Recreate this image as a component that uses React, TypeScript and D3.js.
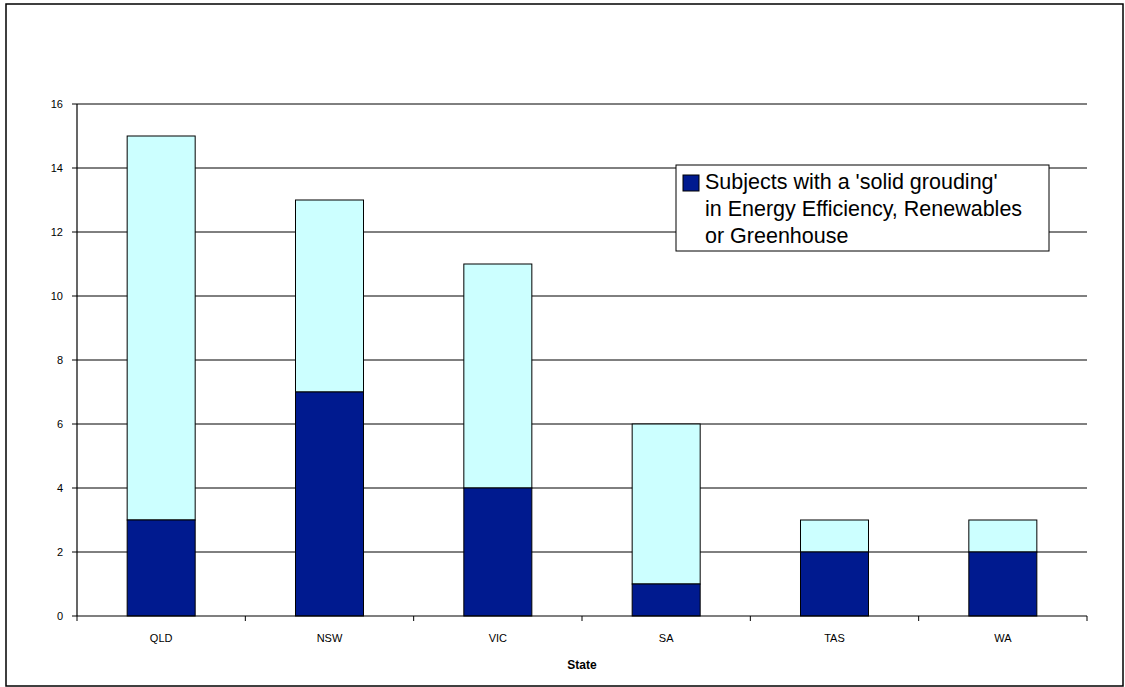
import React from "react";
import * as d3 from "d3";

const states = ["QLD", "NSW", "VIC", "SA", "TAS", "WA"];
const solidGrounding = [3, 7, 4, 1, 2, 2];
const otherSubjects = [12, 6, 7, 5, 1, 1];
const yTicks = [0, 2, 4, 6, 8, 10, 12, 14, 16];
const legendLines = [
  "Subjects with a 'solid grouding'",
  "in Energy Efficiency, Renewables",
  "or Greenhouse",
];

const W = 1125;
const H = 687;
const left = 77;
const right = 1087;
const top = 104;
const bottom = 616;

export default function App() {
  const x = d3
    .scaleBand<string>()
    .domain(states)
    .range([left, right])
    .paddingInner(0.596)
    .paddingOuter(0.298);
  const y = d3.scaleLinear().domain([0, 16]).range([bottom, top]);
  const step = (right - left) / states.length;
  const font = "'Liberation Sans', Arial, sans-serif";
  const dark = "#001a8f";
  const light = "#ccffff";

  return (
    <svg
      width={W}
      height={H}
      style={{ position: "absolute", left: 0, top: 0, display: "block" }}
      fontFamily={font}
    >
      <rect x={0} y={0} width={W} height={H} fill="#fff" />
      <rect x={6} y={4} width={1117} height={682} fill="none" stroke="#000" strokeWidth={1.5} />
      {/* gridlines */}
      {yTicks.map((t) => (
        <g key={t}>
          {t > 0 && (
            <line x1={left} x2={right} y1={y(t)} y2={y(t)} stroke="#000" strokeWidth={1} />
          )}
          <line x1={left - 5} x2={left} y1={y(t)} y2={y(t)} stroke="#000" strokeWidth={1} />
          <text
            x={left - 14}
            y={y(t)}
            dy="0.35em"
            textAnchor="end"
            fontSize={11}
            fill="#000"
          >
            {t}
          </text>
        </g>
      ))}
      {/* bars */}
      {states.map((s, i) => {
        const bx = x(s)!;
        const bw = x.bandwidth();
        const a = solidGrounding[i];
        const b = otherSubjects[i];
        return (
          <g key={s}>
            <rect
              x={bx}
              y={y(a + b)}
              width={bw}
              height={y(a) - y(a + b)}
              fill={light}
              stroke="#000"
              strokeWidth={1}
            />
            <rect
              x={bx}
              y={y(a)}
              width={bw}
              height={y(0) - y(a)}
              fill={dark}
              stroke="#000"
              strokeWidth={1}
            />
            <text
              x={bx + bw / 2}
              y={638}
              dy="0.35em"
              textAnchor="middle"
              fontSize={11}
              fill="#000"
            >
              {s}
            </text>
          </g>
        );
      })}
      {/* axes */}
      <line x1={left} x2={left} y1={top} y2={bottom} stroke="#000" strokeWidth={1.2} />
      <line x1={left} x2={right} y1={bottom} y2={bottom} stroke="#000" strokeWidth={1.2} />
      {d3.range(states.length + 1).map((k) => (
        <line
          key={k}
          x1={left + k * step}
          x2={left + k * step}
          y1={bottom}
          y2={bottom + 5}
          stroke="#000"
          strokeWidth={1}
        />
      ))}
      <text
        x={(left + right) / 2}
        y={665}
        dy="0.35em"
        textAnchor="middle"
        fontSize={12}
        fontWeight="bold"
        fill="#000"
      >
        State
      </text>
      {/* legend */}
      <rect x={676} y={165} width={373} height={86} fill="#fff" stroke="#000" strokeWidth={1} />
      <rect x={683} y={175} width={16} height={16} fill={dark} stroke="#000" strokeWidth={1} />
      {legendLines.map((l, i) => (
        <text key={i} x={705} y={189 + i * 27} fontSize={21.5} fill="#000">
          {l}
        </text>
      ))}
    </svg>
  );
}
